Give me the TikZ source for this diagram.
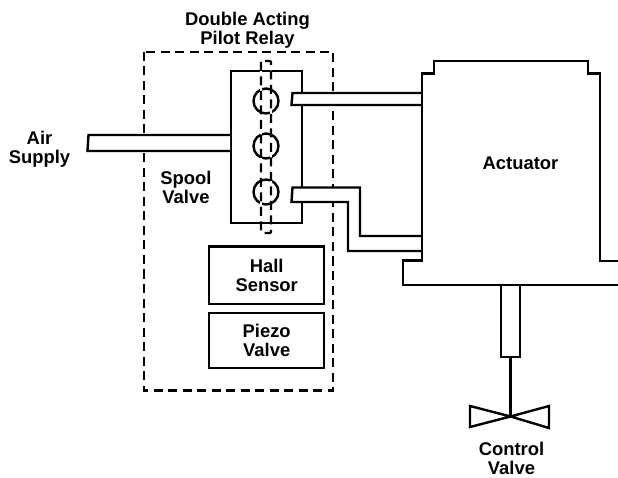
\documentclass[tikz,border=0pt]{standalone}
\usepackage{fontspec}
\setmainfont{Liberation Sans}
\usepackage{tikz}
\usetikzlibrary{positioning}

\begin{document}
\begin{tikzpicture}[x=1pt, y=-1pt, line width=2.4pt, line join=miter,
  lbl/.style={align=center, font=\fontsize{18.4}{19}\selectfont\bfseries, inner sep=0pt},
  box/.style={draw, fill=white, inner sep=0pt, anchor=north west, align=center, font=\fontsize{18.4}{19}\selectfont\bfseries},
  port/.style={draw, circle, minimum size=25pt, inner sep=0pt}]
  \useasboundingbox (0,0) rectangle (618,478);
  % relay housing
  \draw[dash pattern=on 9pt off 5.5pt] (144,52) rectangle (333,390.5);
  % spool valve and air inlet
  \node[box, minimum width=71pt, minimum height=152pt] (spool) at (230,70) {};
  \fill[white] (88.5,135) -- (230,135) -- (230,151) -- (87.5,151) -- cycle;
  \draw (230,135) -- (88.5,135) -- (87.5,151) -- (230,151);
  % ports through to the actuator
  \fill[white] (292.5,93) -- (422,93) -- (422,105) -- (291.5,105) -- cycle;
  \draw (422,93) -- (292.5,93) -- (291.5,105) -- (422,105);
  \fill[white] (292.5,187.5) -- (360,187.5) -- (360,236) -- (422,236) -- (422,251) -- (348,251) -- (348,202) -- (291.5,202) -- cycle;
  \draw (422,236) -- (360,236) -- (360,187.5) -- (292.5,187.5) -- (291.5,202) -- (348,202) -- (348,251) -- (422,251);
  % spool lands
  \node[port] (land1) at (266,101) {};
  \node[port] (land2) at (266,146) {};
  \node[port] (land3) at (266,192) {};
  \draw[white, line width=1.2pt] (261,61) rectangle (271,233);
  \draw[dash pattern=on 9pt off 5.5pt, rounded corners=1pt] (261,61) rectangle (271,233);
  % lower boxes
  \node[box, minimum width=115pt, minimum height=57pt] (hall) at (208,245.5) {Hall\\Sensor};
  \node[box, minimum width=115pt, minimum height=54.5pt] (piezo) at (208,312) {Piezo\\Valve};
  % actuator body
  \draw (618,261) -- (600,261) -- (600,73.5) -- (588,73.5) -- (588,61) -- (434,61) -- (434,73.5) -- (422,73.5) -- (422,260.5) -- (403,260.5) -- (403,285) -- (618,285);
  % stem and valve
  \draw (501,285) rectangle (520,357);
  \coordinate (rod) at (510.5,357);
  \coordinate (seat) at (510.5,416.5);
  \draw (rod) -- (seat);
  \draw (seat) -- (470,406) -- (470,427) -- (seat) -- (549,428) -- (549,406) -- cycle;
  % labels
  \node[lbl] (relaylbl) at (247.5,30) {Double Acting\\Pilot Relay};
  \node[lbl] (airlbl) at (39.5,149.5) {Air\\Supply};
  \node[lbl] (spoollbl) at (186,187) {Spool\\Valve};
  \node[lbl] (actlbl) at (520.5,163) {Actuator};
  \node[lbl] (ctrllbl) at (511.5,458) {Control\\Valve};
\end{tikzpicture}
\end{document}
